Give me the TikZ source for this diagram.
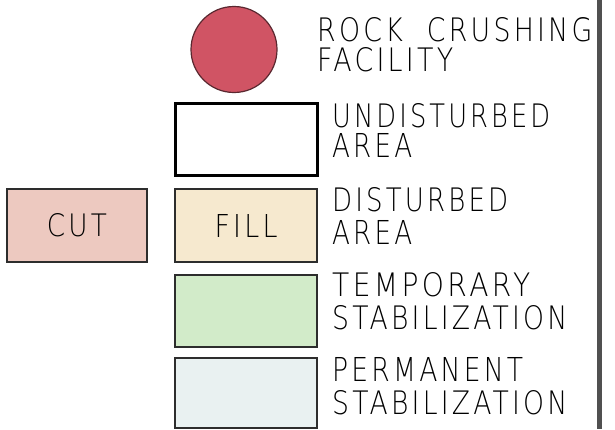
\documentclass[tikz,border=0pt]{standalone}
\usepackage{fontspec}
\usepackage{graphicx}
\newfontfamily\cadfont{DejaVu Sans ExtraLight}[LetterSpace=12]
\definecolor{rockred}{RGB}{208,84,100}
\definecolor{rockedge}{RGB}{90,40,48}
\definecolor{cutpink}{RGB}{237,201,192}
\definecolor{fillcream}{RGB}{246,233,207}
\definecolor{tempgreen}{RGB}{210,235,201}
\definecolor{permblue}{RGB}{233,241,241}
\definecolor{boxedge}{RGB}{45,45,45}
\definecolor{rule}{RGB}{80,80,80}
\tikzset{
  legendbox/.style={draw=boxedge, line width=1.8pt, inner sep=0pt, minimum width=142pt, minimum height=72pt},
  label/.style={inner sep=0pt, anchor=south west, text=black},
}
\newcommand{\cadtext}[3]{\resizebox{#1pt}{#2pt}{\cadfont #3}}
\begin{document}
\begin{tikzpicture}[x=1pt,y=-1pt]
\useasboundingbox (0,0) rectangle (615,429);
\fill[white] (0,0) rectangle (615,429);
% right frame line
\coordinate (rt) at (599,0);
\coordinate (rb) at (599,429);
\draw[rule, line width=5pt] (rt) -- (rb);
% symbols
\node[circle, fill=rockred, draw=rockedge, line width=1.2pt, minimum size=86pt, inner sep=0pt] (rock) at (234,49.5) {};
\node[legendbox, draw=black, line width=3pt, fill=white] (undist) at (246,139) {};
\node[legendbox, fill=cutpink, minimum width=140pt, minimum height=73pt] (cut) at (77,225.5) {\cadtext{60}{23}{CUT}};
\node[legendbox, fill=fillcream, minimum height=73pt] (fill) at (246,225.5) {\cadtext{63}{23}{FILL}};
\node[legendbox, fill=tempgreen] (temp) at (246,311) {};
\node[legendbox, fill=permblue, minimum height=70pt] (perm) at (246,393) {};
% labels
\node[label] (l1a) at (317,42) {\cadtext{275}{24}{ROCK\hspace{0.9em}CRUSHING}};
\node[label] (l1b) at (317,72) {\cadtext{136}{24}{FACILITY}};
\node[label] (l2a) at (332,128) {\cadtext{218}{24}{UNDISTURBED}};
\node[label] (l2b) at (332,158) {\cadtext{80}{24}{AREA}};
\node[label] (l3a) at (332,212) {\cadtext{176}{24}{DISTURBED}};
\node[label] (l3b) at (332,245) {\cadtext{80}{24}{AREA}};
\node[label] (l4a) at (332,297) {\cadtext{198}{24}{TEMPORARY}};
\node[label] (l4b) at (332,330) {\cadtext{235}{24}{STABILIZATION}};
\node[label] (l5a) at (332,382) {\cadtext{191}{24}{PERMANENT}};
\node[label] (l5b) at (332,415) {\cadtext{235}{24}{STABILIZATION}};
\end{tikzpicture}
\end{document}
